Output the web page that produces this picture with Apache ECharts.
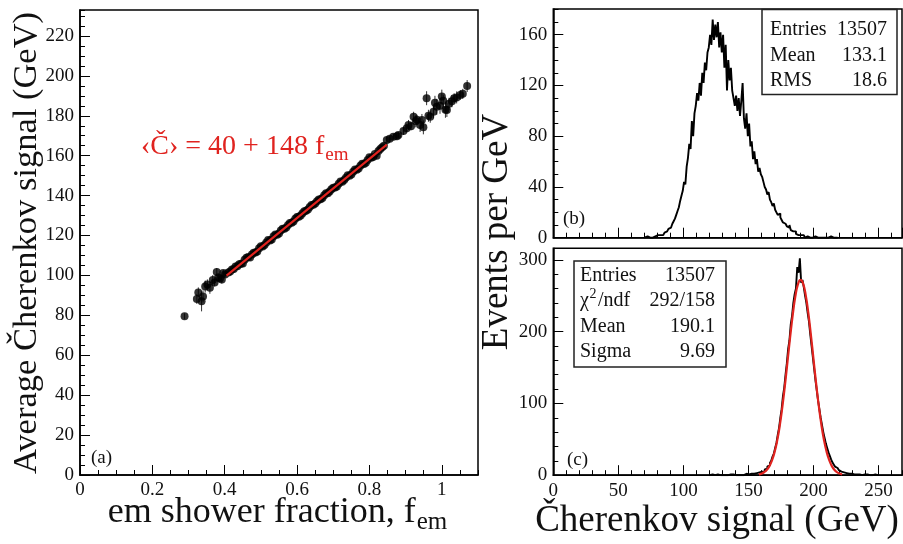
<!DOCTYPE html>
<html>
<head>
<meta charset="utf-8">
<script src="https://cdn.jsdelivr.net/npm/echarts@6/dist/echarts.min.js"></script>
<style>
html, body { margin: 0; padding: 0; background: #fff; }
#chart { width: 903px; height: 544px; }
</style>
</head>
<body>
<div id="chart"></div>
<script>
// ---- (a) average Cherenkov signal vs em shower fraction ----
const emFraction = [
  0.289, 0.323, 0.327, 0.336, 0.340, 0.346, 0.352, 0.359, 0.367, 0.372, 0.378, 0.382, 0.387, 0.392, 0.396, 0.401,
  0.41, 0.42, 0.43, 0.44, 0.45, 0.46, 0.47, 0.48, 0.49, 0.50, 0.51, 0.52, 0.53, 0.54, 0.55, 0.56, 0.57, 0.58, 0.59,
  0.60, 0.61, 0.62, 0.63, 0.64, 0.65, 0.66, 0.67, 0.68, 0.69, 0.70, 0.71, 0.72, 0.73, 0.74, 0.75, 0.76, 0.77, 0.78,
  0.79, 0.80, 0.81, 0.82, 0.83, 0.84,
  0.415, 0.425, 0.435, 0.445, 0.455, 0.465, 0.475, 0.485, 0.495, 0.505, 0.515, 0.525, 0.535, 0.545, 0.555,
  0.565, 0.575, 0.585, 0.595, 0.605, 0.615, 0.625, 0.635, 0.645, 0.655, 0.665, 0.675, 0.685, 0.695, 0.705,
  0.715, 0.725, 0.735, 0.745, 0.755, 0.765, 0.775, 0.785, 0.795, 0.805, 0.815, 0.825, 0.835,
  0.848, 0.856, 0.866, 0.876, 0.880, 0.894, 0.903, 0.908, 0.915, 0.922, 0.928, 0.931, 0.940, 0.945, 0.949, 0.958,
  0.963, 0.968, 0.977, 0.981, 0.986, 0.995, 1.000, 1.004, 1.010, 1.014, 1.020, 1.028, 1.034, 1.041, 1.051, 1.058, 1.070
];
const avgSignal = [
  79.5, 88.2, 91.5, 87.0, 89.5, 94.4, 95.5, 93.8, 97.7, 96.5, 101.7, 99.0, 98.4, 97.9, 101.2, 100.5,
  101.5, 103.0, 104.5, 105.6, 106.0, 108.8, 109.0, 111.4, 112.0, 114.6, 115.2, 117.8, 118.0, 120.5, 121.0, 123.4, 124.0, 126.3, 127.0,
  129.3, 130.0, 132.2, 133.0, 135.3, 136.0, 138.1, 138.8, 141.2, 142.0, 143.9, 144.6, 147.1, 147.8, 150.2, 150.6, 153.1, 153.6, 156.0,
  156.5, 159.2, 159.4, 160.0, 163.4, 165.0,
  102.0, 103.2, 104.6, 105.8, 107.8, 109.2, 110.5, 111.5, 113.6, 114.5, 116.5, 117.5, 119.6, 120.4, 122.5,
  123.4, 125.3, 126.4, 128.4, 129.4, 131.2, 132.4, 134.3, 135.4, 137.2, 138.2, 140.2, 141.2, 143.2, 144.0,
  146.0, 147.0, 149.0, 150.0, 152.0, 153.0, 155.0, 155.8, 157.8, 159.0, 160.8, 162.4, 164.2,
  167.9, 168.5, 169.5, 169.8, 170.4, 172.4, 173.7, 175.4, 174.8, 179.5, 177.2, 178.0, 175.4, 177.9, 174.2, 188.8,
  180.0, 179.5, 182.0, 186.5, 184.5, 185.0, 189.6, 187.5, 183.0, 182.9, 186.0, 187.3, 188.8, 189.2, 190.4, 191.0, 194.9
];
const signalError = [
  1.5, 2.5, 2.5, 5.0, 3.0, 3.0, 2.5, 3.0, 2.5, 2.0, 2.0, 2.0, 1.5, 2.0, 1.5, 1.5,
  1.2, 1.0, 1.2, 1.0, 1.0, 1.2, 1.0, 1.0, 1.0, 1.0, 1.0, 1.0, 1.0, 1.0, 1.0, 1.0, 1.0, 1.0, 1.0,
  1.0, 1.0, 1.0, 1.0, 1.0, 1.0, 1.0, 1.0, 1.0, 1.0, 1.0, 1.0, 1.0, 1.0, 1.0, 1.0, 1.0, 1.0, 1.2,
  1.2, 1.2, 1.2, 1.5, 1.2, 1.2,
  1.0, 1.0, 1.0, 1.0, 1.0, 1.0, 1.0, 1.0, 1.0, 1.0, 1.0, 1.0, 1.0, 1.0, 1.0,
  1.0, 1.0, 1.0, 1.0, 1.0, 1.0, 1.0, 1.0, 1.0, 1.0, 1.0, 1.0, 1.0, 1.0, 1.0,
  1.0, 1.0, 1.0, 1.0, 1.0, 1.0, 1.0, 1.2, 1.2, 1.2, 1.2, 1.2, 1.2,
  1.5, 1.5, 1.5, 2.0, 1.5, 2.0, 2.0, 2.5, 2.0, 2.5, 3.0, 2.5, 3.5, 3.0, 3.5, 3.5,
  3.0, 3.0, 3.0, 3.5, 4.0, 4.0, 3.5, 3.0, 4.0, 3.5, 3.0, 3.0, 2.5, 3.0, 2.5, 2.5, 3.0
];
// straight-line fit <C> = 40 + 148 f_em, drawn over its fitted range
const fitFem = [0.405, 0.848];
const fitSignal = [99.9, 165.5];

// ---- (b) Cherenkov signal distribution, events per GeV ----
const binStartB = 70;
const countsB = [
  0, 0, 1, 0, 0, 1, 0, 1, 1, 0,
  2, 1, 2, 3, 2, 3, 4, 5, 4, 7,
  8, 9, 11, 13, 15, 18, 21, 24, 29, 33,
  37, 44, 42, 56, 63, 74, 70, 92, 80, 98,
  104, 114, 108, 122, 112, 130, 122, 138, 132, 146,
  150, 160, 152, 172, 156, 168, 158, 170, 150, 162,
  146, 160, 134, 152, 116, 140, 124, 134, 116, 110,
  104, 112, 100, 110, 96, 108, 122, 94, 86, 98,
  80, 90, 72, 76, 62, 68, 58, 62, 52, 55,
  50, 48, 44, 40, 38, 34, 36, 30, 28, 25,
  27, 22, 20, 18, 19, 16, 14, 12, 11, 10,
  9, 8, 10, 6, 5, 4, 5, 3, 2, 3,
  2, 1, 2, 1, 0, 1, 1, 0, 1, 0,
  0, 1, 0, 0, 1, 0, 0, 0, 1, 0,
  0, 0, 0, 1, 0, 0, 0, 0, 0, 0
];

// ---- (c) corrected Cherenkov signal distribution with Gaussian fit ----
const binStartC = 120;
const countsC = [
  0, 0, 1, 0, 0, 0, 1, 0, 0, 1, 0, 0, 0, 1, 0, 0, 1, 0, 1, 0,
  0, 1, 0, 1, 0, 1, 0, 1, 2, 0,
  1, 1, 2, 1, 2, 2, 3, 2, 4, 3,
  5, 6, 5, 8, 9, 12, 14, 17, 20, 26,
  30, 38, 45, 56, 66, 80, 92, 110, 122, 140,
  156, 176, 188, 210, 222, 240, 252, 260, 290, 282,
  302, 268, 272, 262, 250, 240, 226, 214, 196, 180,
  164, 148, 132, 118, 104, 92, 80, 70, 60, 52,
  44, 38, 32, 27, 22, 18, 15, 12, 10, 8,
  7, 5, 6, 4, 4, 3, 3, 2, 3, 2,
  2, 1, 2, 1, 2, 1, 1, 0, 1, 1,
  0, 1, 0, 0, 1, 0, 0, 1, 0, 0, 1
];
const gaussX = [158, 160, 162, 164, 166, 168, 170, 172, 174, 176, 178, 180, 182, 184, 186, 188, 190,
  192, 194, 196, 198, 200, 202, 204, 206, 208, 210, 212, 214, 216, 218, 220, 222];
const gaussY = [1.1, 2.2, 4.1, 7.2, 12.3, 20.2, 31.7, 47.5, 68.4, 94.4, 124.7, 158, 191.8, 223, 248.7, 265.7, 272,
  266.8, 250.8, 226, 195, 161.4, 128, 97.2, 70.8, 49.4, 33, 21.2, 13, 7.6, 4.3, 2.3, 1.2];

// ---- statistics boxes ----
const statsB = [['Entries', '13507'], ['Mean', '133.1'], ['RMS', '18.6']];
const statsC = [['Entries', '13507'], ['CHI2', '292/158'], ['Mean', '190.1'], ['Sigma', '9.69']];

const FONT = '"Liberation Serif", "Times New Roman", serif';
const RED = '#e0231f';
const measureCtx = document.createElement('canvas').getContext('2d');
function textWidth(str, size) {
  measureCtx.font = size + 'px ' + FONT;
  return measureCtx.measureText(str).width;
}
function txt(text, x, y, size, align, color, rotation) {
  const el = {
    type: 'text', x: x, y: y, z: 100,
    style: {
      text: text, font: size + 'px ' + FONT, fill: color || '#111',
      textAlign: align || 'left', textVerticalAlign: 'middle',
      align: align || 'left', verticalAlign: 'middle'
    }
  };
  if (rotation) el.rotation = rotation;
  return el;
}
// main text followed by a lowered subscript, centred on pos (or starting at it)
function withSub(main, sub, pos, y, size, subSize, subDy, color, centred) {
  const wMain = textWidth(main, size);
  const wSub = textWidth(sub, subSize);
  const left = centred ? pos - (wMain + wSub) / 2 : pos;
  return [txt(main, left, y, size, 'left', color), txt(sub, left + wMain + 1, y + subDy, subSize, 'left', color)];
}

// major axes: frame line, long inward ticks and labels
function majorAxis(extra) {
  return Object.assign({
    type: 'value',
    axisLine: { show: true, onZero: false, lineStyle: { color: '#000', width: 1.5 } },
    axisTick: { show: true, inside: true, length: 10, lineStyle: { color: '#000', width: 1 } },
    minorTick: { show: false },
    splitLine: { show: false },
    axisLabel: { fontFamily: FONT, fontSize: 19, color: '#111', showMaxLabel: false, margin: 6 }
  }, extra);
}
// companion axes that only carry the short inward minor ticks
function minorAxis(extra) {
  return Object.assign({
    type: 'value',
    axisLine: { show: false },
    axisTick: { show: true, inside: true, length: 5, lineStyle: { color: '#000', width: 1 } },
    axisLabel: { show: false },
    splitLine: { show: false }
  }, extra);
}

const graphics = [];
// axis titles
graphics.push(txt('Average Čherenkov signal (GeV)', 27, 243, 34.5, 'center', '#111', Math.PI / 2));
graphics.push(...withSub('em shower fraction, f', 'em', 277, 513, 36, 25, 9, '#111', true));
graphics.push(txt('Events per GeV', 497, 232, 37, 'center', '#111', Math.PI / 2));
graphics.push(txt('Čherenkov signal (GeV)', 717, 521, 37, 'center', '#111'));
// fit formula
graphics.push(...withSub('‹Č› = 40 + 148 f', 'em', 141, 147, 28, 19, 8, RED, false));
// panel tags
graphics.push(txt('(a)', 91, 458, 19, 'left'));
graphics.push(txt('(b)', 563, 219, 19, 'left'));
graphics.push(txt('(c)', 567, 460, 19, 'left'));

// stats box (b)
graphics.push({ type: 'rect', z: 90, shape: { x: 762, y: 9.5, width: 135, height: 85 },
  style: { fill: '#fff', stroke: '#222', lineWidth: 1.5 } });
statsB.forEach((row, i) => {
  const y = 30 + i * 25.3;
  graphics.push(txt(row[0], 770, y, 20, 'left'));
  graphics.push(txt(row[1], 887, y, 20, 'right'));
});
// stats box (c)
graphics.push({ type: 'rect', z: 90, shape: { x: 574, y: 261, width: 152, height: 106 },
  style: { fill: '#fff', stroke: '#222', lineWidth: 1.5 } });
statsC.forEach((row, i) => {
  const y = 276 + i * 25.2;
  if (row[0] === 'CHI2') {
    const wChi = textWidth('χ', 20);
    graphics.push(txt('χ', 580, y, 20, 'left'));
    graphics.push(txt('2', 580 + wChi + 0.5, y - 7, 14, 'left'));
    graphics.push(txt('/ndf', 580 + wChi + 9, y, 20, 'left'));
  } else {
    graphics.push(txt(row[0], 580, y, 20, 'left'));
  }
  graphics.push(txt(row[1], 715, y, 20, 'right'));
});

const gridStyle = { show: true, borderColor: '#000', borderWidth: 1.5, backgroundColor: 'transparent', containLabel: false };

const option = {
  animation: false,
  backgroundColor: '#fff',
  grid: [
    Object.assign({ left: 80, top: 10, width: 398, height: 465 }, gridStyle),
    Object.assign({ left: 553.3, top: 9, width: 348.7, height: 228.7 }, gridStyle),
    Object.assign({ left: 553.3, top: 248.3, width: 348.7, height: 226.9 }, gridStyle)
  ],
  xAxis: [
    majorAxis({ gridIndex: 0, position: 'bottom', min: 0, max: 1.1, interval: 0.2 }),
    majorAxis({ gridIndex: 1, position: 'bottom', min: 0, max: 268, interval: 50, axisLabel: { show: false } }),
    majorAxis({ gridIndex: 2, position: 'bottom', min: 0, max: 268, interval: 50 }),
    minorAxis({ gridIndex: 0, position: 'bottom', min: 0, max: 1.1, interval: 0.05 }),
    minorAxis({ gridIndex: 1, position: 'bottom', min: 0, max: 268, interval: 10 }),
    minorAxis({ gridIndex: 2, position: 'bottom', min: 0, max: 268, interval: 10 })
  ],
  yAxis: [
    majorAxis({ gridIndex: 0, position: 'left', min: 0, max: 233, interval: 20 }),
    majorAxis({ gridIndex: 1, position: 'left', min: 0, max: 180.3, interval: 40 }),
    majorAxis({ gridIndex: 2, position: 'left', min: 0, max: 316, interval: 100 }),
    minorAxis({ gridIndex: 0, position: 'left', min: 0, max: 233, interval: 5 }),
    minorAxis({ gridIndex: 1, position: 'left', min: 0, max: 180.3, interval: 10 }),
    minorAxis({ gridIndex: 2, position: 'left', min: 0, max: 316, interval: 20 })
  ],
  graphic: graphics,
  series: [
    {
      type: 'custom', xAxisIndex: 0, yAxisIndex: 0, z: 2,
      data: emFraction.map((f, i) => [f, avgSignal[i] - signalError[i], avgSignal[i] + signalError[i]]),
      renderItem: function (params, api) {
        const lo = api.coord([api.value(0), api.value(1)]);
        const hi = api.coord([api.value(0), api.value(2)]);
        return { type: 'line', shape: { x1: lo[0], y1: lo[1], x2: hi[0], y2: hi[1] },
          style: { stroke: '#333', lineWidth: 1 } };
      }
    },
    {
      type: 'scatter', xAxisIndex: 0, yAxisIndex: 0, z: 3,
      symbol: 'circle', symbolSize: 8,
      itemStyle: { color: '#000' },
      data: emFraction.map((f, i) => [f, avgSignal[i]])
    },
    {
      type: 'line', xAxisIndex: 0, yAxisIndex: 0, z: 4,
      symbol: 'none', lineStyle: { color: RED, width: 2.2 },
      data: fitFem.map((f, i) => [f, fitSignal[i]])
    },
    {
      type: 'line', xAxisIndex: 1, yAxisIndex: 1, step: 'middle',
      symbol: 'none', lineStyle: { color: '#000', width: 1.9 },
      data: countsB.map((c, i) => [binStartB + i, c])
    },
    {
      type: 'line', xAxisIndex: 2, yAxisIndex: 2, step: 'middle',
      symbol: 'none', lineStyle: { color: '#000', width: 1.9 },
      data: countsC.map((c, i) => [binStartC + i, c])
    },
    {
      type: 'line', xAxisIndex: 2, yAxisIndex: 2, smooth: true, z: 5,
      symbol: 'none', lineStyle: { color: RED, width: 2.2 },
      data: gaussX.map((x, i) => [x, gaussY[i]])
    }
  ]
};

const chart = echarts.init(document.getElementById('chart'), null, { renderer: 'canvas' });
chart.setOption(option);
</script>
</body>
</html>
